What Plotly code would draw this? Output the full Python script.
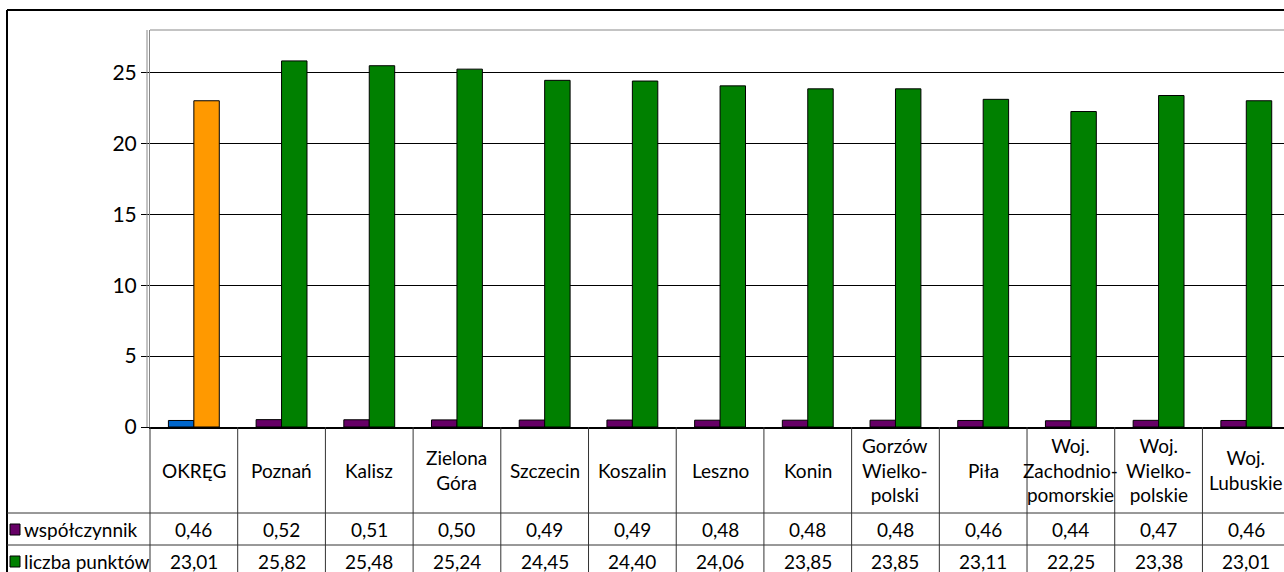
import plotly.graph_objects as go

okregi = ["OKRĘG", "Poznań", "Kalisz", "Zielona<br>Góra", "Szczecin", "Koszalin", "Leszno",
          "Konin", "Gorzów<br>Wielko-<br>polski", "Piła", "Woj.<br>Zachodnio-<br>pomorskie",
          "Woj.<br>Wielko-<br>polskie", "Woj.<br>Lubuskie"]
wspolczynnik = [0.46, 0.52, 0.51, 0.50, 0.49, 0.49, 0.48, 0.48, 0.48, 0.46, 0.44, 0.47, 0.46]
punkty = [23.01, 25.82, 25.48, 25.24, 24.45, 24.40, 24.06, 23.85, 23.85, 23.11, 22.25, 23.38, 23.01]
nazwy_serii = ["współczynnik", "liczba punktów"]
y_ticks = [0, 5, 10, 15, 20, 25]

FONT = "Lato"
FIOLET, ZIELONY = "#660066", "#008000"

# piksele -> papier (obszar wykresu: x 150..1284, y 30..427)
def px(X):
    return (X - 150) / 1134

def py(Y):
    return (427 - Y) / 397

idx = list(range(len(okregi)))
fig = go.Figure()
fig.add_trace(go.Bar(x=idx, y=wspolczynnik, name=nazwy_serii[0],
                     marker=dict(color=["#0066CC"] + [FIOLET] * (len(idx) - 1),
                                 line=dict(color="black", width=1))))
fig.add_trace(go.Bar(x=idx, y=punkty, name=nazwy_serii[1],
                     marker=dict(color=["#FF9900"] + [ZIELONY] * (len(idx) - 1),
                                 line=dict(color="black", width=1))))

shapes = []
ln = lambda x0, y0, x1, y1, c="black", w=1, xr="paper": dict(
    type="line", xref=xr, yref="paper", x0=x0, y0=y0, x1=x1, y1=y1, line=dict(color=c, width=w))

# ramka zewnętrzna
shapes.append(ln(px(7), py(10), px(7), py(580), w=2))
shapes.append(ln(px(7), py(10), px(1300), py(10), w=2))
# górna krawędź obszaru wykresu i podwójna oś
shapes.append(ln(0, 1, 1.02, 1, c="#888888"))
shapes.append(ln(px(147), py(427), px(147), 1, c="#888888"))
# tabela danych
for Y in (513, 545):
    shapes.append(ln(px(7), py(Y), 1.02, py(Y), c="#333333"))
shapes.append(ln(0, py(427), 0, py(580), c="#333333"))
for i in idx[:-1]:
    shapes.append(ln(i + 0.5, py(427), i + 0.5, py(580), c="#333333", xr="x"))
# znaczniki legendy
for Yc, col in ((529, FIOLET), (561, ZIELONY)):
    shapes.append(dict(type="rect", xref="paper", yref="paper", x0=px(10), x1=px(20),
                       y0=py(Yc - 5), y1=py(Yc + 6), fillcolor=col, line=dict(color="black", width=1)))

ann = []
for i, name in enumerate(okregi):
    ann.append(dict(x=i, y=py(470), xref="x", yref="paper", text=name, showarrow=False,
                    yanchor="middle", font=dict(size=19)))
    ann.append(dict(x=i, y=py(529), xref="x", yref="paper", text=f"{wspolczynnik[i]:.2f}".replace(".", ","),
                    showarrow=False, yanchor="middle", font=dict(size=19)))
    ann.append(dict(x=i, y=py(561), xref="x", yref="paper", text=f"{punkty[i]:.2f}".replace(".", ","),
                    showarrow=False, yanchor="middle", font=dict(size=19)))
for Yc, name in zip((529, 561), nazwy_serii):
    ann.append(dict(x=px(22), y=py(Yc), xref="paper", yref="paper", text=name, showarrow=False,
                    xanchor="left", yanchor="middle", font=dict(size=19)))

fig.update_layout(
    width=1284, height=572,
    margin=dict(l=150, r=0, t=30, b=145),
    paper_bgcolor="white", plot_bgcolor="white",
    font=dict(family=FONT, color="black"),
    showlegend=False,
    barmode="group", bargap=0.42, bargroupgap=0,
    xaxis=dict(range=[-0.5, 12.43], showticklabels=False, showgrid=False, zeroline=False,
               showline=True, linecolor="black", linewidth=2, ticks=""),
    yaxis=dict(range=[0, 28], tickvals=y_ticks, showgrid=True, gridcolor="black", gridwidth=1,
               zeroline=False, showline=True, linecolor="#888888", linewidth=1,
               ticks="outside", ticklen=8, tickcolor="black", tickfont=dict(size=21)),
    shapes=shapes, annotations=ann,
)
fig.write_html("out.html", config={"displayModeBar": False},
               post_script="document.body.style.margin='0';")
